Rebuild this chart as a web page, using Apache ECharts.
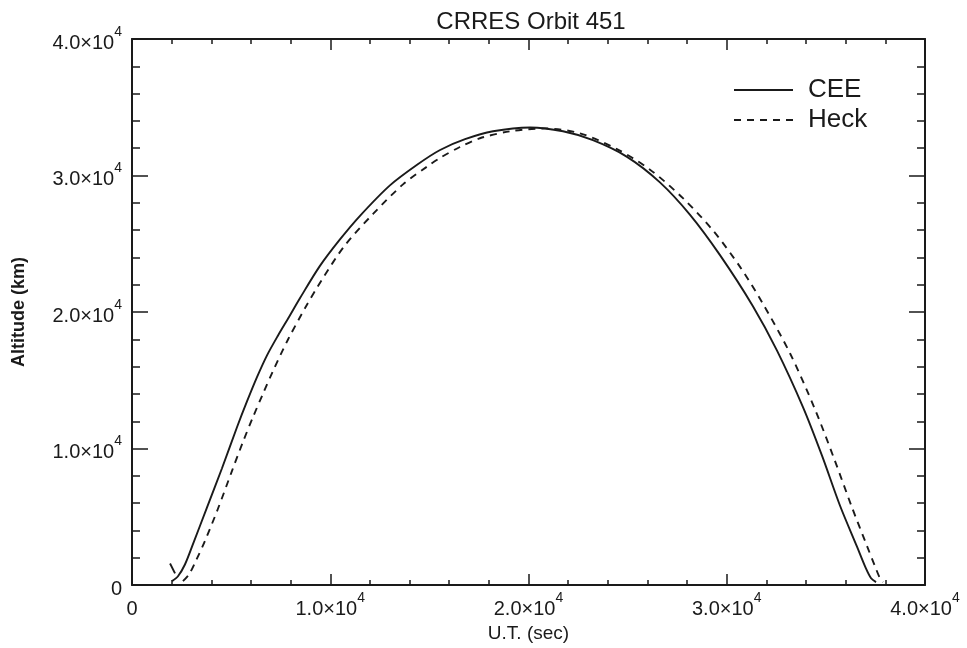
<!DOCTYPE html>
<html>
<head>
<meta charset="utf-8">
<script src="https://cdn.jsdelivr.net/npm/echarts@6/dist/echarts.min.js"></script>
<style>
  html, body { margin: 0; padding: 0; background: #fff; }
  #chart { width: 967px; height: 648px; }
</style>
</head>
<body>
<div id="chart"></div>
<script>
// Altitude vs. universal time for CRRES orbit 451, two models
const seriesNames = ['CEE', 'Heck'];

// Short lead-in stroke drawn just before the CEE arc starts
const ceeLeadIn = [[1920, 1580], [2170, 860]];

// [U.T. seconds, altitude km]
const ceeData = [
  [2020, 290], [2320, 650], [2670, 1510], [3080, 3020], [3780, 5680],
  [4540, 8560], [5300, 11580], [5800, 13450], [6310, 15250], [6810, 16830],
  [7360, 18270], [7920, 19640], [8470, 21010], [9480, 23380], [10490, 25320],
  [11500, 27050], [13010, 29280], [14380, 30790], [15540, 31870], [16800, 32660],
  [18210, 33240], [20080, 33520], [21740, 33240], [23250, 32590], [24970, 31370],
  [26630, 29500], [28150, 27120], [29660, 24170], [31320, 20430], [32530, 17190],
  [33850, 13020], [34800, 9500], [35710, 5830], [36570, 2810], [37020, 1220],
  [37280, 500], [37530, 220]
];

const heckData = [
  [2570, 290], [2880, 790], [3230, 1800], [3680, 3240], [4340, 5610],
  [5040, 8350], [5600, 10500], [6100, 12300], [6610, 14030], [7110, 15680],
  [7870, 17990], [8730, 20290], [9580, 22370], [10740, 24890], [12160, 27190],
  [13670, 29350], [14880, 30650], [15540, 31290], [16540, 32090], [17550, 32730],
  [19070, 33240], [20830, 33450], [22600, 33090], [24460, 31940], [26130, 30430],
  [27790, 28340], [29310, 25970], [30670, 23310], [31780, 20720], [33190, 16980],
  [34450, 12880], [35410, 9280], [36320, 5680], [37070, 2880], [37480, 1370],
  [37730, 500], [37880, 220]
];

const xTicks = [0, 10000, 20000, 30000, 40000];
const yTicks = [0, 10000, 20000, 30000, 40000];

const ink = '#1a1a1a';
const labelFont = 'Liberation Sans';

function sciLabel(v) {
  if (v === 0) return '{m|0}';
  return '{m|' + (v / 1e4).toFixed(1) + '×10}{s|4}';
}

const richSci = {
  m: { fontSize: 20, fontFamily: labelFont, color: ink, lineHeight: 28, verticalAlign: 'bottom' },
  s: { fontSize: 14, fontFamily: labelFont, color: ink, lineHeight: 28, verticalAlign: 'top' }
};

function axisBase(extra) {
  return Object.assign({
    type: 'value',
    min: 0,
    max: 40000,
    interval: 10000,
    splitLine: { show: false },
    axisLine: { show: true, onZero: false, lineStyle: { color: ink, width: 2 } }
  }, extra);
}

const xTickStyle = {
  axisTick: { show: true, inside: true, length: 11, lineStyle: { color: ink, width: 1.5 } },
  minorTick: { show: true, splitNumber: 5, length: 5, lineStyle: { color: ink, width: 1.5 } }
};
const yTickStyle = {
  axisTick: { show: true, inside: true, length: 16, lineStyle: { color: ink, width: 1.5 } },
  minorTick: { show: true, splitNumber: 5, length: 8, lineStyle: { color: ink, width: 1.5 } }
};

const lineCommon = {
  type: 'line',
  xAxisIndex: 0,
  yAxisIndex: 0,
  smooth: 0.3,
  showSymbol: false,
  symbol: 'none'
};

const chart = echarts.init(document.getElementById('chart'), null, { renderer: 'canvas' });

chart.setOption({
  backgroundColor: '#ffffff',
  animation: false,
  title: {
    text: 'CRRES Orbit 451',
    left: 526,
    textAlign: 'center',
    top: 5,
    textStyle: { fontFamily: labelFont, fontSize: 24, fontWeight: 'normal', color: ink }
  },
  legend: {
    orient: 'vertical',
    left: 728,
    top: 72,
    itemWidth: 59,
    itemHeight: 26,
    itemGap: 4,
    data: seriesNames,
    itemStyle: { color: 'transparent', borderWidth: 0 },
    textStyle: { fontFamily: labelFont, fontSize: 26, color: ink, padding: [0, 0, 0, 10] }
  },
  grid: { left: 132, right: 42, top: 39, bottom: 53 },
  xAxis: [
    axisBase(Object.assign({
      position: 'bottom',
      name: 'U.T. (sec)',
      nameLocation: 'middle',
      nameGap: 35,
      nameTextStyle: { fontFamily: labelFont, fontSize: 19, color: ink },
      axisLabel: { margin: 6, formatter: sciLabel, rich: richSci, customValues: xTicks }
    }, xTickStyle)),
    axisBase(Object.assign({
      position: 'top',
      axisLabel: { show: false }
    }, xTickStyle))
  ],
  yAxis: [
    axisBase(Object.assign({
      position: 'left',
      name: 'Altitude (km)',
      nameLocation: 'middle',
      nameGap: 104,
      nameTextStyle: { fontFamily: labelFont, fontSize: 18, fontWeight: 'bold', color: ink },
      axisLabel: { margin: 10, formatter: sciLabel, rich: richSci, customValues: yTicks }
    }, yTickStyle)),
    axisBase(Object.assign({
      position: 'right',
      axisLabel: { show: false }
    }, yTickStyle))
  ],
  series: [
    Object.assign({}, lineCommon, {
      name: seriesNames[0],
      data: ceeData,
      lineStyle: { color: ink, width: 1.9, type: 'solid' },
      itemStyle: { color: ink }
    }),
    Object.assign({}, lineCommon, {
      name: seriesNames[0],
      data: ceeLeadIn,
      smooth: false,
      lineStyle: { color: ink, width: 1.9, type: 'solid' },
      itemStyle: { color: ink }
    }),
    Object.assign({}, lineCommon, {
      name: seriesNames[1],
      data: heckData,
      lineStyle: { color: ink, width: 1.9, type: [7, 6] },
      itemStyle: { color: ink }
    })
  ]
});
</script>
</body>
</html>
